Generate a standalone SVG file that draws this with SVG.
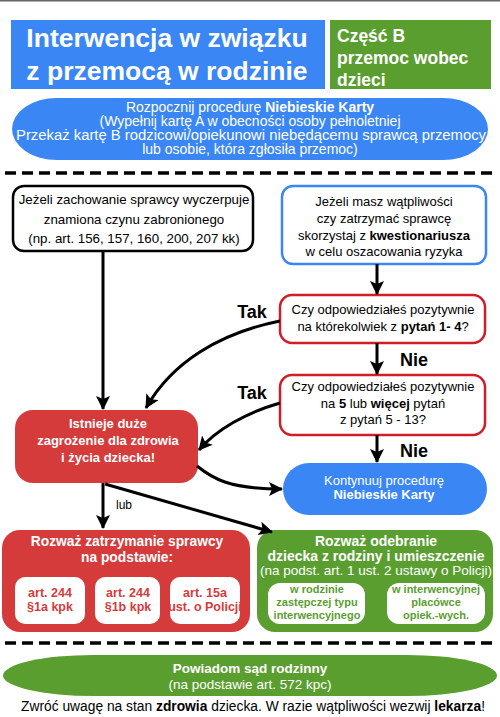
<svg xmlns="http://www.w3.org/2000/svg" width="500" height="717" viewBox="0 0 500 717">
<defs>
<marker id="ah" markerUnits="userSpaceOnUse" markerWidth="14" markerHeight="14" viewBox="0 0 14 14" refX="13" refY="7" orient="auto">
<path d="M0,0 L14,7 L0,14 L3,7 Z" fill="#000"/>
</marker>
</defs>
<style>
text{font-family:"Liberation Sans",Arial,sans-serif;text-anchor:middle}
.w{fill:#fff}
.k{fill:#000}
.b{font-weight:bold}
.blue{fill:#3a86f4}
.green{fill:#5a9e30}
.red{fill:#d63b3b}
.edge{fill:none;stroke:#000;stroke-width:3;marker-end:url(#ah)}
.dash{stroke:#000;stroke-width:3.5;stroke-dasharray:11,6}
</style>
<rect x="0" y="0" width="500" height="1.5" fill="#666"/>
<g id="title">
<rect x="11" y="20" width="314" height="69" class="blue"/>
<text x="167" y="47" class="w b" font-size="26.5">Interwencja w związku</text>
<text x="167" y="80" class="w b" font-size="26.5">z przemocą w rodzinie</text>
</g>
<g id="part">
<rect x="330" y="20" width="161" height="69" class="green"/>
<text x="337" y="42" class="w b" font-size="17.5" style="text-anchor:start">Część B</text>
<text x="337" y="64" class="w b" font-size="17.5" style="text-anchor:start">przemoc wobec</text>
<text x="337" y="86" class="w b" font-size="17.5" style="text-anchor:start">dzieci</text>
</g>
<g id="start">
<rect x="12" y="98" width="476" height="62" rx="45" ry="31" class="blue"/>
<text x="250" y="112" class="w" font-size="14">Rozpocznij procedurę <tspan class="b">Niebieskie Karty</tspan></text>
<text x="250" y="126" class="w" font-size="14">(Wypełnij kartę A w obecności osoby pełnoletniej</text>
<text x="251" y="140" class="w" font-size="14" textLength="470" lengthAdjust="spacingAndGlyphs">Przekaż kartę B rodzicowi/opiekunowi niebędącemu sprawcą przemocy</text>
<text x="250" y="154" class="w" font-size="14">lub osobie, która zgłosiła przemoc)</text>
</g>
<line x1="5" y1="173" x2="497" y2="173" class="dash"/>
<g id="crime">
<rect x="13" y="186" width="240" height="65" rx="11" fill="#fff" stroke="#000" stroke-width="2.5"/>
<text x="134" y="204" class="k" font-size="13.3">Jeżeli zachowanie sprawcy wyczerpuje</text>
<text x="134" y="224" class="k" font-size="13.3">znamiona czynu zabronionego</text>
<text x="134" y="243" class="k" font-size="13.3">(np. art. 156, 157, 160, 200, 207 kk)</text>
</g>
<g id="doubt">
<rect x="282" y="186" width="204" height="78" rx="11" fill="#fff" stroke="#3a86f4" stroke-width="2.5"/>
<text x="384" y="206" class="k" font-size="13">Jeżeli masz wątpliwości</text>
<text x="384" y="223" class="k" font-size="13">czy zatrzymać sprawcę</text>
<text x="384" y="240" class="k" font-size="13">skorzystaj z <tspan class="b">kwestionariusza</tspan></text>
<text x="384" y="256" class="k" font-size="13">w celu oszacowania ryzyka</text>
</g>
<g id="q1">
<rect x="280" y="295" width="205" height="48" rx="12" fill="#fff" stroke="#cc1f28" stroke-width="2.5"/>
<text x="383" y="314" class="k" font-size="13">Czy odpowiedziałeś pozytywnie</text>
<text x="383" y="331" class="k" font-size="13">na którekolwiek z <tspan class="b">pytań 1- 4</tspan>?</text>
</g>
<g id="q2">
<rect x="280" y="375" width="205" height="60" rx="12" fill="#fff" stroke="#cc1f28" stroke-width="2.5"/>
<text x="383" y="391" class="k" font-size="13">Czy odpowiedziałeś pozytywnie</text>
<text x="383" y="408" class="k" font-size="13">na <tspan class="b">5</tspan> lub <tspan class="b">więcej</tspan> pytań</text>
<text x="383" y="424" class="k" font-size="13">z pytań 5 - 13?</text>
</g>
<g id="danger">
<rect x="15" y="410" width="183" height="73" rx="18" class="red"/>
<text x="108" y="428" class="w b" font-size="13">Istnieje duże</text>
<text x="108" y="445" class="w b" font-size="13">zagrożenie dla zdrowia</text>
<text x="108" y="462" class="w b" font-size="13">i życia dziecka!</text>
</g>
<g id="continue">
<rect x="283" y="463" width="204" height="52" rx="26" class="blue"/>
<text x="384" y="485" class="w" font-size="13">Kontynuuj  procedurę</text>
<text x="384" y="499" class="w b" font-size="13">Niebieskie Karty</text>
</g>
<g id="detain">
<rect x="2" y="530" width="248" height="102" rx="18" class="red"/>
<text x="127" y="546" class="w b" font-size="13.8">Rozważ zatrzymanie sprawcy</text>
<text x="127" y="562" class="w b" font-size="13.8">na podstawie:</text>
<rect x="15" y="577" width="70" height="47" rx="10" fill="#fff"/>
<text x="50" y="597" class="b" font-size="12.5" fill="#d63b3b">art. 244</text>
<text x="50" y="611" class="b" font-size="12.5" fill="#d63b3b">§1a kpk</text>
<rect x="95" y="577" width="65" height="47" rx="10" fill="#fff"/>
<text x="128" y="597" class="b" font-size="12.5" fill="#d63b3b">art. 244</text>
<text x="128" y="611" class="b" font-size="12.5" fill="#d63b3b">§1b kpk</text>
<rect x="170" y="577" width="70" height="47" rx="10" fill="#fff"/>
<text x="205" y="597" class="b" font-size="12.5" fill="#d63b3b">art. 15a</text>
<text x="205" y="611" class="b" font-size="12.5" fill="#d63b3b">ust. o Policji</text>
</g>
<g id="remove">
<rect x="257" y="530" width="236" height="102" rx="18" class="green"/>
<text x="376" y="546" class="w b" font-size="14">Rozważ odebranie</text>
<text x="376" y="561" class="w b" font-size="14">dziecka z rodziny i umieszczenie</text>
<text x="376" y="575" class="w" font-size="13.5">(na podst. art. 1 ust. 2 ustawy o Policji)</text>
<rect x="268" y="583" width="97" height="41" rx="12" fill="#fff"/>
<text x="317" y="593" class="b" font-size="11" fill="#5a9e30">w rodzinie</text>
<text x="317" y="606" class="b" font-size="11" fill="#5a9e30">zastępczej typu</text>
<text x="317" y="619" class="b" font-size="11" fill="#5a9e30">interwencyjnego</text>
<rect x="387" y="583" width="98" height="41" rx="12" fill="#fff"/>
<text x="436" y="593" class="b" font-size="11" fill="#5a9e30">w interwencyjnej</text>
<text x="436" y="606" class="b" font-size="11" fill="#5a9e30">placówce</text>
<text x="436" y="619" class="b" font-size="11" fill="#5a9e30">opiek.-wych.</text>
</g>
<line x1="5" y1="643" x2="497" y2="643" class="dash"/>
<g id="court">
<rect x="3" y="655" width="494" height="41" rx="90" ry="20.5" class="green"/>
<text x="250" y="673" class="w b" font-size="13.5">Powiadom sąd rodzinny</text>
<text x="250" y="689" class="w" font-size="13.5">(na podstawie art. 572 kpc)</text>
</g>
<text x="253" y="711" class="k" font-size="13.8">Zwróć uwagę na stan <tspan class="b">zdrowia</tspan> dziecka. W razie wątpliwości wezwij <tspan class="b">lekarza</tspan>!</text>
<g id="connectors">
<path d="M103,251 L103,409" class="edge"/>
<path d="M377,264 L377,294" class="edge"/>
<path d="M377,343 L377,374" class="edge"/>
<path d="M377,435 L377,462" class="edge"/>
<path d="M280,321 C220,333 172,362 146,408" class="edge"/>
<path d="M280,403 C245,413 216,430 199,450" class="edge"/>
<path d="M197,466 C212,478 228,489 282,489" class="edge"/>
<path d="M103,483 L103,528" class="edge"/>
<path d="M105,484 L272,532" class="edge"/>
<text x="252" y="318" class="k b" font-size="18">Tak</text>
<text x="252" y="399" class="k b" font-size="18">Tak</text>
<text x="414" y="366" class="k b" font-size="18">Nie</text>
<text x="414" y="457" class="k b" font-size="18">Nie</text>
<text x="124" y="509" class="k" font-size="12">lub</text>
</g>
</svg>
